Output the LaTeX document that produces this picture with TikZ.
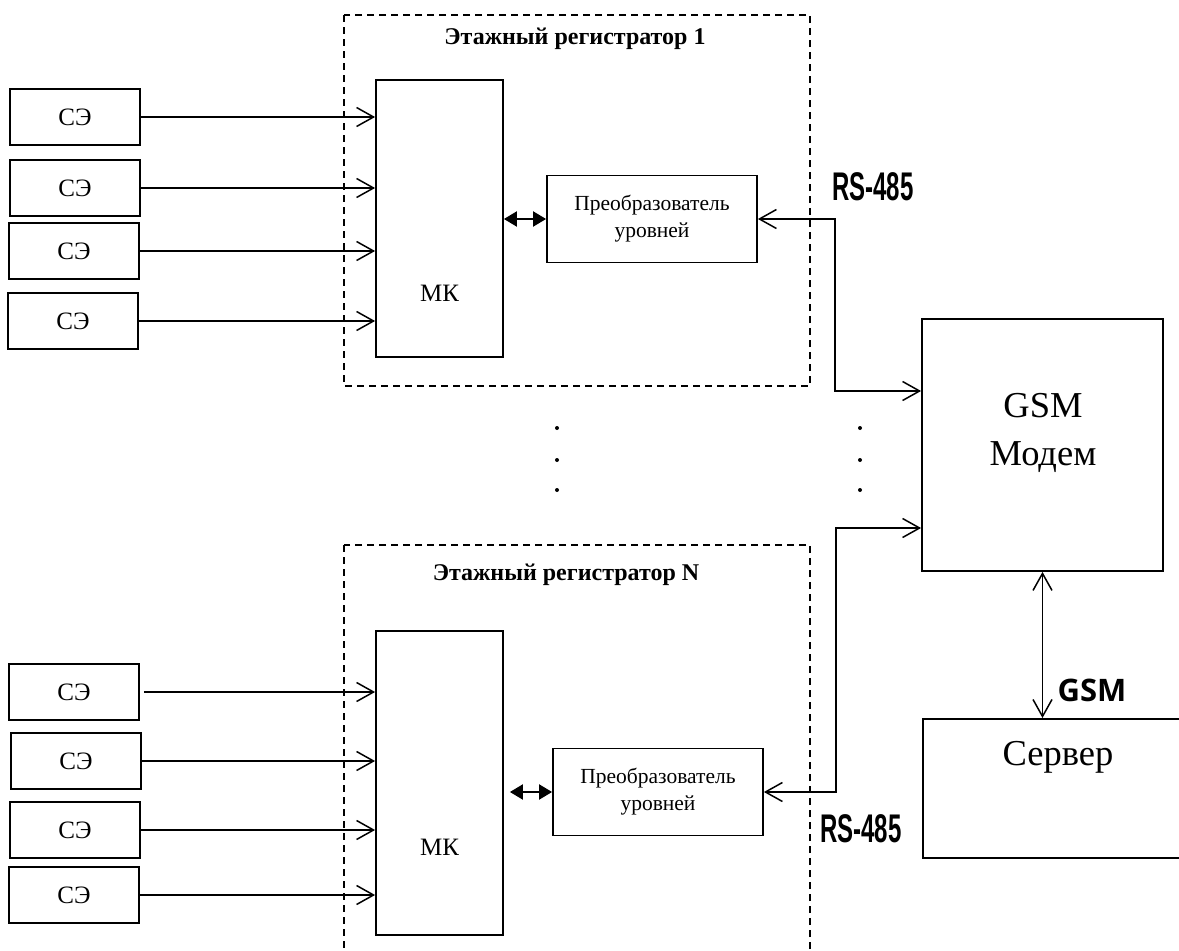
\documentclass[tikz,border=0pt]{standalone}
\usepackage{fontspec}
\usepackage{graphicx}
\setmainfont{Liberation Serif}
\newfontfamily\rsfont{Liberation Sans}
\newfontfamily\gsmfont{Open Sans}
\usetikzlibrary{arrows.meta}
\begin{document}
\begin{tikzpicture}[x=1pt,y=-1pt,
  box/.style={draw,line width=1.8pt,inner sep=0pt},
  sebox/.style={box,minimum width=130pt,minimum height=56pt,font=\fontsize{25}{28}\selectfont},
  mkbox/.style={box,minimum width=127pt},
  convbox/.style={box,minimum width=210pt,minimum height=87pt,align=center,font=\fontsize{21.5}{27}\selectfont},
  conn/.style={line width=1.5pt},
  arr/.style={conn,-{Straight Barb[length=17pt,width=19pt]}},
  barbtwo/.style={conn,{Straight Barb[length=17pt,width=19pt]}-{Straight Barb[length=17pt,width=19pt]}},
  dbl/.style={line width=2pt,{Triangle[length=13pt,width=15pt]}-{Triangle[length=13pt,width=15pt]}},
  regbox/.style={line width=1.5pt,dash pattern=on 7pt off 5pt},
  title/.style={font=\bfseries\fontsize{24}{28}\selectfont},
  rs/.style={font=\rsfont\bfseries\fontsize{40}{44}\selectfont},
  big/.style={font=\fontsize{36.5}{48}\selectfont,align=center}
]
\useasboundingbox (0,0) rectangle (1179,951);
\clip (0,0) rectangle (1179,951);

% register frames
\draw[regbox] (344,15) rectangle (810,386);
\draw[regbox] (344,545) rectangle (810,970);
\node[title] (t1) at (575,39) {Этажный регистратор 1};
\node[title] (t2) at (566,575) {Этажный регистратор N};

% top group
\node[sebox] (s1) at (75,117) {СЭ};
\node[sebox] (s2) at (75,188) {СЭ};
\node[sebox] (s3) at (74,251) {СЭ};
\node[sebox] (s4) at (73,321) {СЭ};
\node[mkbox,minimum height=277pt] (mk1) at (439.5,218.5) {};
\node[font=\fontsize{25}{28}\selectfont] (mk1t) at (439.5,293) {МК};
\node[convbox] (conv1) at (652,219) {Преобразователь\\уровней};
\foreach \s in {s1,s2,s3,s4}{
  \draw[arr] (\s.east) -- (\s.east -| mk1.west);
}
\draw[dbl] (mk1.east |- conv1.west) -- (conv1.west);

% bottom group
\node[sebox] (s5) at (74,692) {СЭ};
\node[sebox] (s6) at (76,761) {СЭ};
\node[sebox] (s7) at (75,830) {СЭ};
\node[sebox] (s8) at (74,895) {СЭ};
\node[mkbox,minimum height=304pt] (mk2) at (439.5,783) {};
\node[font=\fontsize{25}{28}\selectfont] (mk2t) at (439.5,847) {МК};
\node[convbox] (conv2) at (658,792) {Преобразователь\\уровней};
\draw[arr,shorten <=4pt] (s5.east) -- (s5.east -| mk2.west);
\foreach \s in {s6,s7,s8}{
  \draw[arr] (\s.east) -- (\s.east -| mk2.west);
}
\draw[dbl,shorten <=6pt] (mk2.east |- conv2.west) -- (conv2.west);

% modem and server
\node[box,minimum width=241pt,minimum height=252pt] (modem) at (1042.5,445) {};
\node[big] (modemt) at (1043,433) {GSM\\Модем};
\node[box,anchor=north west,minimum width=290pt,minimum height=139pt] (server) at (922,718) {};
\node[font=\fontsize{36.5}{40}\selectfont] (servert) at (1058,757) {Сервер};

% RS-485 links
\coordinate (j1) at (835,391);
\coordinate (j2) at (836,528);
\draw[barbtwo] (conv1.east) -| (j1) -- (modem.west |- j1);
\draw[barbtwo] (conv2.east) -| (j2) -- (modem.west |- j2);
\node[rs] (rs1) at (873,187) {\scalebox{0.6}[1]{RS-485}};
\node[rs] (rs2) at (861,829) {\scalebox{0.6}[1]{RS-485}};

% GSM link
\draw[barbtwo] (modem.south) -- (modem.south |- server.north);
\node[font=\gsmfont\bfseries\fontsize{31}{34}\selectfont] (gsml) at (1092,690) {GSM};

% dots
\foreach \y in {428,460,490}{
  \fill (557,\y) circle (2pt);
  \fill (860,\y) circle (2pt);
}
\end{tikzpicture}
\end{document}
